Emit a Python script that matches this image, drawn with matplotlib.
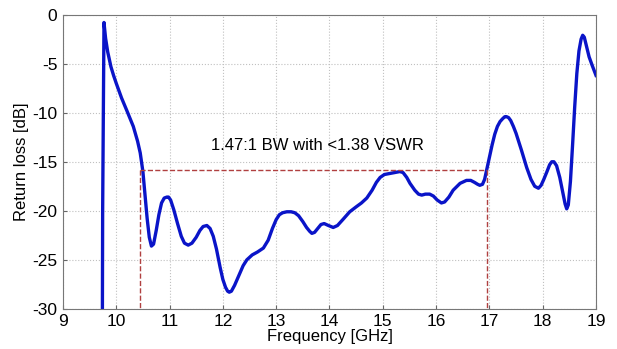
import matplotlib
matplotlib.use("Agg")
import matplotlib.pyplot as plt

plt.rcParams['font.family'] = ['Liberation Sans', 'DejaVu Sans']
plt.rcParams['axes.unicode_minus'] = False

# return loss curve
freq = [9.74, 9.745, 9.77, 9.8, 9.84, 9.9, 9.95, 10.0, 10.1, 10.2, 10.32, 10.4,
        10.45, 10.5, 10.54, 10.58, 10.62, 10.66, 10.7, 10.75, 10.8, 10.85, 10.9,
        10.95, 10.98, 11.02, 11.08, 11.15, 11.22, 11.28, 11.35, 11.42, 11.5,
        11.57, 11.63, 11.7, 11.76, 11.82, 11.88, 11.95, 12.0, 12.05, 12.09, 12.12,
        12.16, 12.22, 12.3, 12.38, 12.45, 12.55, 12.65, 12.76, 12.85, 12.93, 13.0,
        13.06, 13.12, 13.2, 13.28, 13.35, 13.42, 13.5, 13.57, 13.63, 13.67, 13.72,
        13.78, 13.84, 13.9, 13.98, 14.07, 14.15, 14.25, 14.38, 14.5, 14.6, 14.7,
        14.8, 14.88, 14.95, 15.03, 15.13, 15.22, 15.32, 15.38, 15.45, 15.51, 15.6,
        15.67, 15.73, 15.8, 15.88, 15.95, 16.02, 16.1, 16.16, 16.24, 16.32, 16.45,
        16.57, 16.65, 16.72, 16.78, 16.82, 16.87, 16.91, 16.95, 17.0, 17.05, 17.1,
        17.15, 17.2, 17.25, 17.29, 17.32, 17.36, 17.4, 17.45, 17.5, 17.6, 17.7,
        17.78, 17.85, 17.92, 17.97, 18.02, 18.08, 18.13, 18.17, 18.21, 18.26,
        18.32, 18.38, 18.42, 18.45, 18.48, 18.52, 18.56, 18.6, 18.64, 18.68,
        18.72, 18.75, 18.78, 18.82, 18.87, 18.93, 19.0]
rl = [-31, -20, -0.8, -2.4, -3.8, -5.3, -6.2, -7.0, -8.5, -9.8, -11.4, -12.9,
      -14.1, -16.0, -18.4, -20.8, -22.7, -23.6, -23.4, -22.0, -20.4, -19.2,
      -18.7, -18.6, -18.6, -18.9, -19.9, -21.3, -22.6, -23.3, -23.5, -23.3,
      -22.7, -22.0, -21.6, -21.5, -21.8, -22.6, -23.9, -25.8, -27.0, -27.8,
      -28.2, -28.3, -28.2, -27.6, -26.6, -25.6, -25.0, -24.5, -24.2, -23.8,
      -23.0, -21.8, -20.9, -20.4, -20.2, -20.1, -20.1, -20.2, -20.5, -21.1,
      -21.7, -22.1, -22.3, -22.2, -21.8, -21.4, -21.3, -21.5, -21.7, -21.5,
      -20.9, -20.1, -19.6, -19.2, -18.7, -17.9, -17.1, -16.6, -16.3, -16.2,
      -16.1, -16.0, -16.1, -16.6, -17.2, -17.9, -18.3, -18.4, -18.3, -18.3,
      -18.5, -18.9, -19.2, -19.1, -18.6, -17.9, -17.2, -16.9, -16.9, -17.1,
      -17.3, -17.4, -17.3, -16.8, -15.8, -14.5, -13.3, -12.2, -11.4, -10.9,
      -10.6, -10.4, -10.4, -10.5, -10.8, -11.4, -12.1, -13.8, -15.6, -16.8,
      -17.5, -17.7, -17.4, -16.8, -16.0, -15.3, -15.0, -15.0, -15.4, -16.6,
      -18.2, -19.3, -19.8, -19.4, -17.0, -13.3, -9.4, -6.0, -3.7, -2.5, -2.1,
      -2.3, -3.2, -4.3, -5.2, -6.2]

# bandwidth box
bw_lo = 10.45
bw_hi = 16.95
bw_level = -15.8
bw_text = '1.47:1 BW with <1.38 VSWR'

fig = plt.figure(figsize=(6.17, 3.49), dpi=100)
ax = fig.add_axes([0.102, 0.115, 0.864, 0.843])

ax.plot(freq, rl, color='#0a14c8', linewidth=2.4, solid_joinstyle='round')
dash_col = '#b04040'
ax.plot([bw_lo, bw_hi], [bw_level, bw_level], color=dash_col, ls='--', lw=1)
ax.plot([bw_lo, bw_lo], [bw_level, -30], color=dash_col, ls='--', lw=1)
ax.plot([bw_hi, bw_hi], [bw_level, -30], color=dash_col, ls='--', lw=1)
ax.text(13.78, -13.3, bw_text, ha='center', va='center', fontsize=12)

ax.set_xlim(9, 19)
ax.set_ylim(-30, 0)
ax.set_xticks(range(9, 20))
ax.set_yticks(range(-30, 1, 5))
ax.grid(True, color='#c0c0c0', linestyle=':', linewidth=0.8)
ax.tick_params(direction='in', length=3, labelsize=12.5, color='#666666', pad=4)
for s in ax.spines.values():
    s.set_color('#777777')
ax.set_xlabel('Frequency [GHz]', fontsize=12, labelpad=0)
ax.set_ylabel('Return loss [dB]', fontsize=12, labelpad=2)

fig.savefig('out.png', dpi=100)
plt.close(fig)
